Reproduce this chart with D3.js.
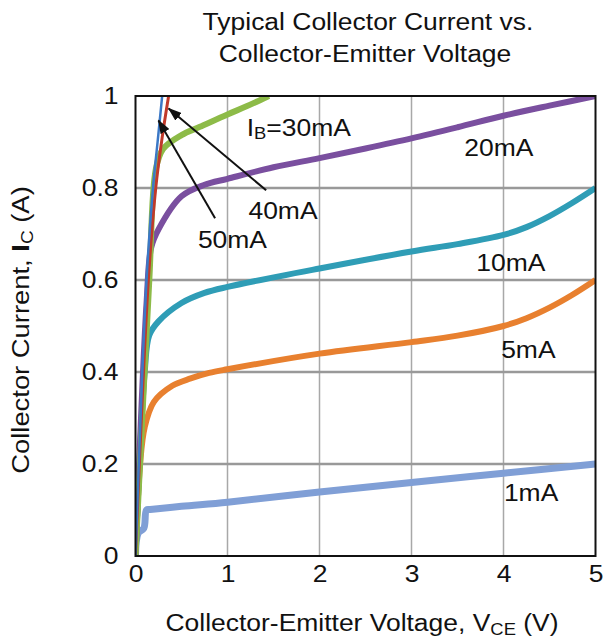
<!DOCTYPE html>
<html>
<head>
<meta charset="utf-8">
<script src="https://cdn.jsdelivr.net/npm/d3@7"></script>
<style>
  body { margin: 0; background: #fff; }
  svg text { font-family: "Liberation Sans", Arial, sans-serif; fill: #111; }
</style>
</head>
<body>
<svg id="chart" width="603" height="639"></svg>
<script>
// --- data ---
const xTicks = [0, 1, 2, 3, 4, 5];
const yTicks = [0, 0.2, 0.4, 0.6, 0.8, 1];
const yTickLabels = ["0", "0.2", "0.4", "0.6", "0.8", "1"];

const v1mA = [0, 0.03, 0.09, 0.12, 0.16, 0.5, 1, 2, 3, 4, 5];
const i1mA = [0, 0.05, 0.06, 0.1, 0.101, 0.108, 0.117, 0.139, 0.16, 0.18, 0.2];

const v5mA = [0, 0.05, 0.1, 0.2, 0.4, 0.6, 0.8, 1, 2, 3, 3.5, 4, 4.25, 4.5, 4.75, 5];
const i5mA = [0, 0.2, 0.28, 0.335, 0.37, 0.386, 0.398, 0.406, 0.44, 0.465, 0.479, 0.5, 0.517, 0.54, 0.568, 0.6];

const v10mA = [0, 0.1, 0.15, 0.25, 0.5, 0.75, 1, 2, 3, 3.5, 4, 4.25, 4.5, 4.75, 5];
const i10mA = [0, 0.4, 0.48, 0.51, 0.55, 0.572, 0.585, 0.625, 0.662, 0.678, 0.698, 0.715, 0.739, 0.768, 0.8];

const v20mA = [0, 0.12, 0.17, 0.25, 0.5, 0.75, 1, 1.5, 2, 2.5, 3, 3.5, 4, 4.5, 5];
const i20mA = [0, 0.55, 0.67, 0.71, 0.782, 0.807, 0.82, 0.845, 0.865, 0.886, 0.908, 0.932, 0.957, 0.979, 1.0];

const v30mA = [0, 0.15, 0.22, 0.3, 0.5, 0.7, 1, 1.2, 1.45];
const i30mA = [0, 0.6, 0.84, 0.885, 0.915, 0.933, 0.96, 0.977, 1.0];

const v40mA = [0, 0.14, 0.22, 0.29, 0.36];
const i40mA = [0, 0.6, 0.8, 0.91, 1.0];

const v50mA = [0, 0.12, 0.19, 0.24, 0.29];
const i50mA = [0, 0.6, 0.8, 0.9, 1.0];

const seriesNames = ["1mA", "5mA", "10mA", "20mA", "30mA", "40mA", "50mA"];
const seriesV = [v1mA, v5mA, v10mA, v20mA, v30mA, v40mA, v50mA];
const seriesI = [i1mA, i5mA, i10mA, i20mA, i30mA, i40mA, i50mA];
const seriesColors = ["#809fd6", "#e8802f", "#2f9db6", "#7a4f9f", "#8dbb48", "#c0392b", "#3b78c6"];
const seriesWidths = [7, 6, 6, 6, 6, 3, 2.5];

// curve labels (I_B=30mA is drawn separately because of the subscript)
const labelText = ["20mA", "40mA", "50mA", "10mA", "5mA", "1mA"];
const labelV = [3.95, 1.603, 1.054, 4.08, 4.27, 4.3];
const labelI = [0.886, 0.749, 0.688, 0.638, 0.447, 0.136];

// arrows from label to curve
const arrowFromV = [1.42, 0.865];
const arrowFromI = [0.795, 0.734];
const arrowToV = [0.36, 0.25];
const arrowToI = [0.973, 0.947];

const FS = 23;        // font size used everywhere
const WIDEN = 1.15;   // reference glyphs run wider than Liberation Sans

// stretch a text element along its baseline
function widen(sel, f) {
  sel.each(function () {
    const len = this.getComputedTextLength();
    d3.select(this).attr("textLength", len * (f || WIDEN)).attr("lengthAdjust", "spacingAndGlyphs");
  });
}

// --- layout ---
const svg = d3.select("#chart");
const margin = { top: 96, left: 135.5, right: 7.5, bottom: 83 };
const width = 603 - margin.left - margin.right;   // 460
const height = 639 - margin.top - margin.bottom;  // 460

const x = d3.scaleLinear().domain([0, 5]).range([0, width]);
const y = d3.scaleLinear().domain([0, 1]).range([height, 0]);

const g = svg.append("g").attr("transform", `translate(${margin.left},${margin.top})`);

// title
widen(svg.append("text").attr("x", 368).attr("y", 30).attr("text-anchor", "middle")
  .style("font-size", FS + "px").text("Typical Collector Current vs."));
widen(svg.append("text").attr("x", 365).attr("y", 61.5).attr("text-anchor", "middle")
  .style("font-size", FS + "px").text("Collector-Emitter Voltage"));

// grid
g.selectAll(".vgrid").data(xTicks.slice(1, -1)).enter().append("line")
  .attr("x1", d => x(d)).attr("x2", d => x(d)).attr("y1", 0).attr("y2", height)
  .attr("stroke", "#a8a8a8").attr("stroke-width", 1.5);
g.selectAll(".hgrid").data(yTicks.slice(1, -1)).enter().append("line")
  .attr("x1", 0).attr("x2", width).attr("y1", d => y(d)).attr("y2", d => y(d))
  .attr("stroke", "#999").attr("stroke-width", 2.5);

// axes (labels only, the box is drawn below)
const xAxis = g.append("g").attr("transform", `translate(0,${height})`)
  .call(d3.axisBottom(x).tickValues(xTicks).tickFormat(d3.format("d")).tickSize(0).tickPadding(10));
const yAxis = g.append("g")
  .call(d3.axisLeft(y).tickValues(yTicks).tickFormat((d, i) => yTickLabels[i]).tickSize(0).tickPadding(17));
[xAxis, yAxis].forEach(a => {
  a.select(".domain").remove();
  a.selectAll("text").style("font-size", FS + "px")
    .style("font-family", "Liberation Sans, Arial, sans-serif").attr("fill", "#111");
  widen(a.selectAll("text"));
});

// clip
svg.append("defs").append("clipPath").attr("id", "plotClip")
  .append("rect").attr("x", 0).attr("y", 0).attr("width", width).attr("height", height);

const line = d3.line()
  .x(d => x(d[0]))
  .y(d => y(d[1]))
  .curve(d3.curveCatmullRom.alpha(0.5));

const curves = g.append("g").attr("clip-path", "url(#plotClip)");
seriesNames.forEach((name, k) => {
  const pts = seriesV[k].map((v, j) => [v, seriesI[k][j]]);
  curves.append("path")
    .datum(pts)
    .attr("fill", "none")
    .attr("stroke", seriesColors[k])
    .attr("stroke-width", seriesWidths[k])
    .attr("stroke-linejoin", "round")
    .attr("d", line);
});

// plot box
g.append("rect").attr("x", 0).attr("y", 0).attr("width", width).attr("height", height)
  .attr("fill", "none").attr("stroke", "#111").attr("stroke-width", 2);

// arrows
svg.select("defs").append("marker").attr("id", "arrowHead")
  .attr("viewBox", "0 0 14 10").attr("refX", 13).attr("refY", 5)
  .attr("markerWidth", 7).attr("markerHeight", 5).attr("orient", "auto")
  .append("path").attr("d", "M0,0 L14,5 L0,10 Z").attr("fill", "#111");
arrowFromV.forEach((v, k) => {
  g.append("line")
    .attr("x1", x(v)).attr("y1", y(arrowFromI[k]))
    .attr("x2", x(arrowToV[k])).attr("y2", y(arrowToI[k]))
    .attr("stroke", "#111").attr("stroke-width", 2)
    .attr("marker-end", "url(#arrowHead)");
});

// curve labels
labelText.forEach((t, k) => {
  widen(g.append("text").attr("x", x(labelV[k])).attr("y", y(labelI[k]))
    .attr("text-anchor", "middle").attr("dominant-baseline", "central")
    .style("font-size", FS + "px").text(t));
});
const ib = g.append("text").attr("x", x(1.209)).attr("y", y(0.931))
  .attr("dominant-baseline", "central").style("font-size", FS + "px");
ib.append("tspan").text("I");
ib.append("tspan").attr("dy", 5).style("font-size", "16px").text("B");
ib.append("tspan").attr("dy", -5).text("=30mA");
widen(ib);

// axis titles
const xt = svg.append("text").attr("x", 362).attr("y", 631).attr("text-anchor", "middle")
  .style("font-size", FS + "px");
xt.append("tspan").text("Collector-Emitter Voltage, V");
xt.append("tspan").attr("dy", 4).style("font-size", "16px").text("CE");
xt.append("tspan").attr("dy", -4).text(" (V)");
widen(xt);

const yt = svg.append("text").attr("transform", "translate(29,330) rotate(-90)")
  .attr("text-anchor", "middle").style("font-size", FS + "px");
yt.append("tspan").text("Collector Current, ");
yt.append("tspan").style("font-weight", "bold").text("I");
yt.append("tspan").attr("dy", 4).style("font-size", "16px").text("C");
yt.append("tspan").attr("dy", -4).text(" (A)");
widen(yt, 1.19);
</script>
</body>
</html>
